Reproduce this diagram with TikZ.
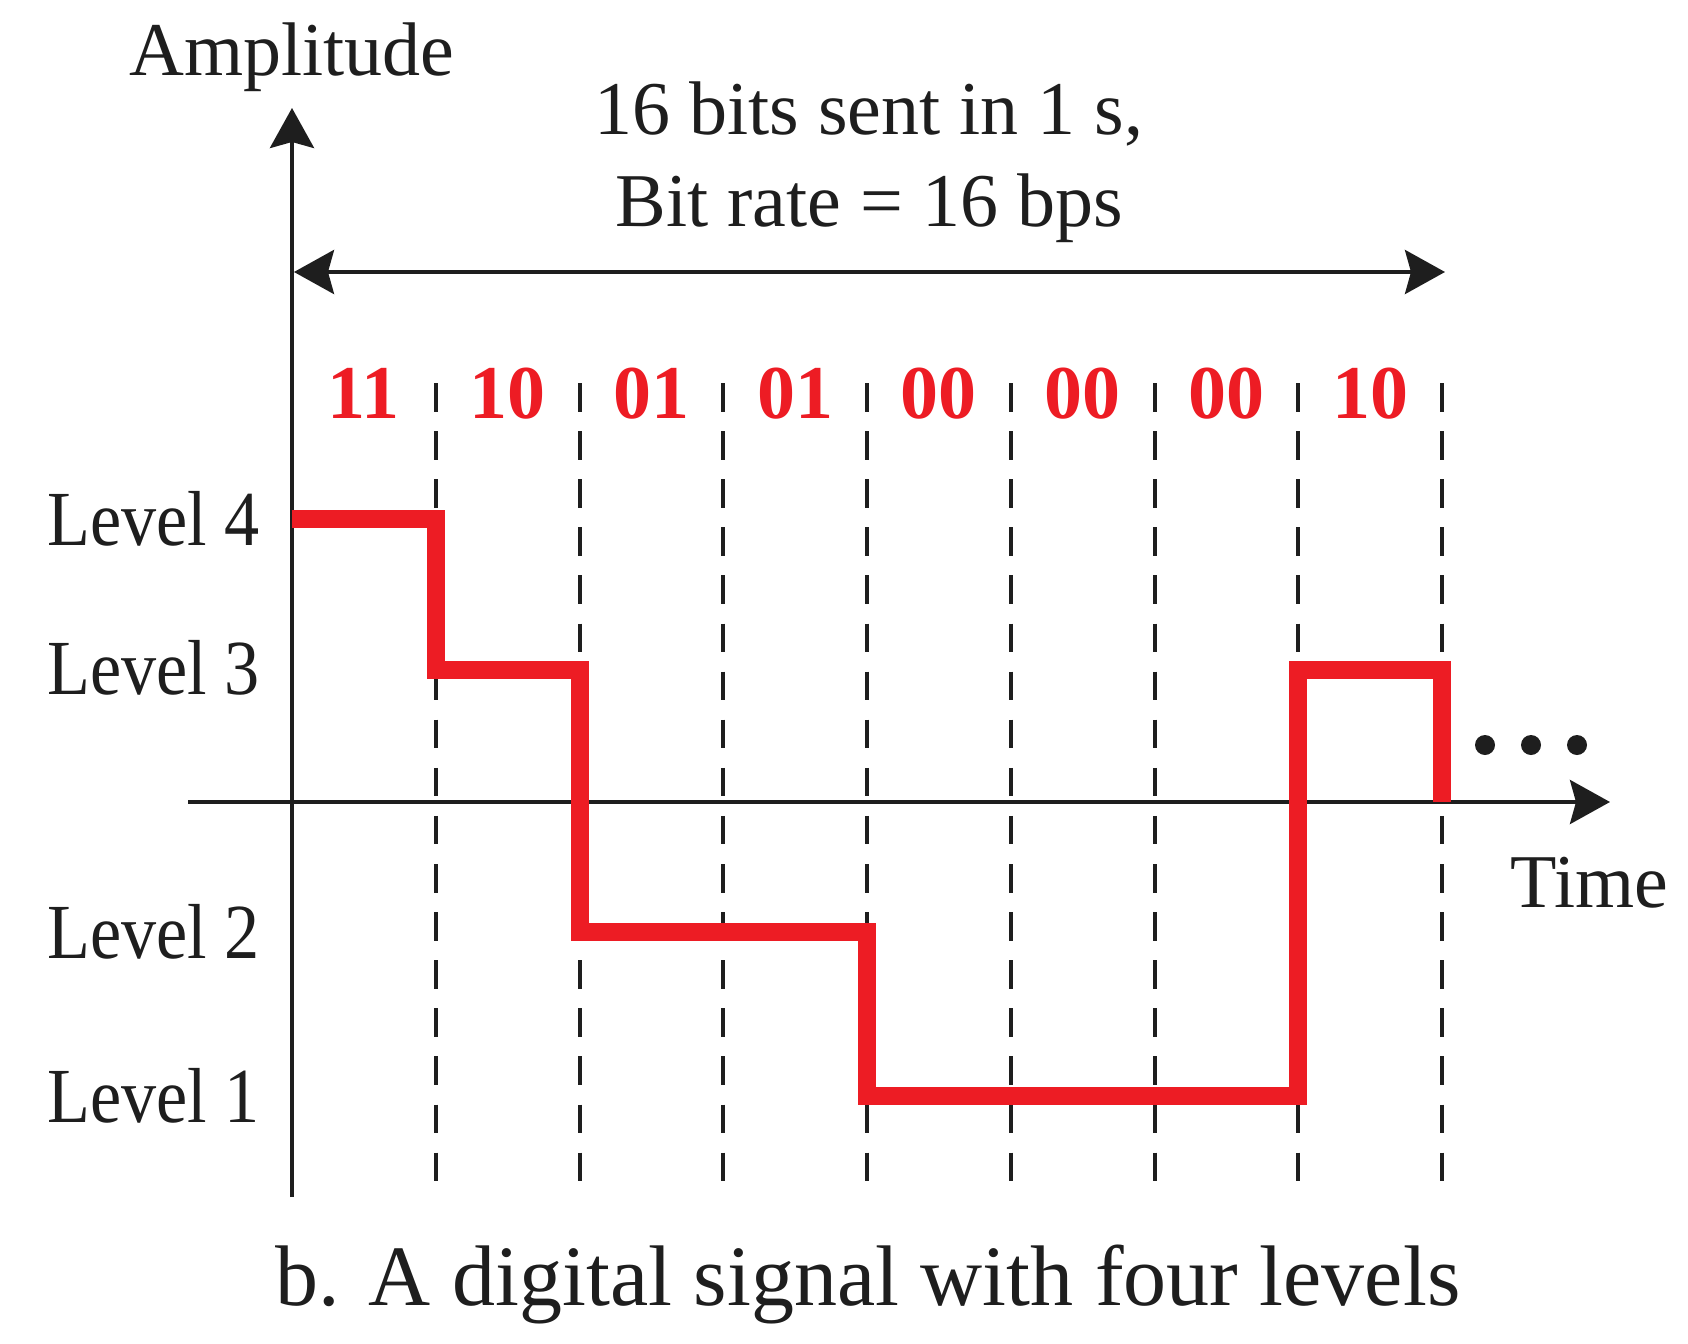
\documentclass[tikz,border=0pt]{standalone}
\usepackage{fontspec}
\setmainfont{Liberation Serif}
\newfontfamily\levelfont{Liberation Serif}[FakeStretch=0.9]
\usetikzlibrary{arrows.meta}
\definecolor{sigred}{RGB}{237,28,36}
\definecolor{ink}{RGB}{30,30,30}
\begin{document}
\begin{tikzpicture}[x=0.5pt,y=-0.5pt,
  axis/.style={line width=2pt, draw=ink},
  tipend/.style={-{Stealth[length=20pt,width=22pt,inset=3pt]}},
  tipboth/.style={{Stealth[length=20pt,width=22pt,inset=3pt]}-{Stealth[length=20pt,width=22pt,inset=3pt]}},
  gridline/.style={line width=2pt, dash pattern=on 14.25pt off 9.8pt, draw=ink},
  sig/.style={line width=9pt, draw=sigred, line join=miter},
  lbl/.style={inner sep=0pt, text=ink, font=\fontsize{38}{40}\selectfont},
  lvl/.style={inner sep=0pt, anchor=base east, text=ink, font=\levelfont\fontsize{39}{40}\selectfont},
  bits/.style={inner sep=0pt, anchor=base, text=sigred, font=\bfseries\fontsize{38}{40}\selectfont},
  dot/.style={circle, fill=ink, inner sep=0pt, minimum size=10pt},
]
\useasboundingbox (0,0) rectangle (1688,1344);
% axes
\coordinate (ytop) at (292,108);
\coordinate (ybot) at (292,1197);
\coordinate (xl) at (188,802);
\coordinate (xr) at (1610,802);
\draw[axis,tipend] (ybot) -- (ytop);
\draw[axis,tipend] (xl) -- (xr);
% double arrow
\coordinate (dl) at (294,272);
\coordinate (dr) at (1445,272);
\draw[axis,tipboth] (dl) -- (dr);
% dashed bit boundaries
\foreach \k in {1,...,8} {
  \coordinate (t\k) at ({292+143.75*\k},383);
  \coordinate (b\k) at ({292+143.75*\k},1182);
  \draw[gridline] (t\k) -- (b\k);
}
% signal
\draw[sig] (292,519) -| (435.75,670) -| (579.5,932) -| (867,1096) -| (1298.25,670) -| (1442,802);
% dots
\node[dot] (d1) at (1485,745) {};
\node[dot] (d2) at (1531,745) {};
\node[dot] (d3) at (1577,745) {};
% bit labels
\foreach \b [count=\i] in {11,10,01,01,00,00,00,10}
  \node[bits] (bit\i) at ({292+143.75*(\i-0.5)},418) {\b};
% level labels
\node[lvl] (lv4) at (260,545) {Level 4};
\node[lvl] (lv3) at (260,694) {Level 3};
\node[lvl] (lv2) at (260,958) {Level 2};
\node[lvl] (lv1) at (260,1122) {Level 1};
% texts
\node[lbl, anchor=base] (amp) at (292,75) {Amplitude};
\node[lbl, anchor=base] (title1) at (869,134) {16 bits sent in 1 s,};
\node[lbl, anchor=base] (title2) at (869,226) {Bit rate = 16 bps};
\node[lbl, anchor=base west] (time) at (1510,907) {Time};
\node[inner sep=0pt, anchor=base, text=ink, font=\fontsize{43}{45}\selectfont] (caption) at (868,1305) {b. A digital signal with four levels};
\end{tikzpicture}
\end{document}
